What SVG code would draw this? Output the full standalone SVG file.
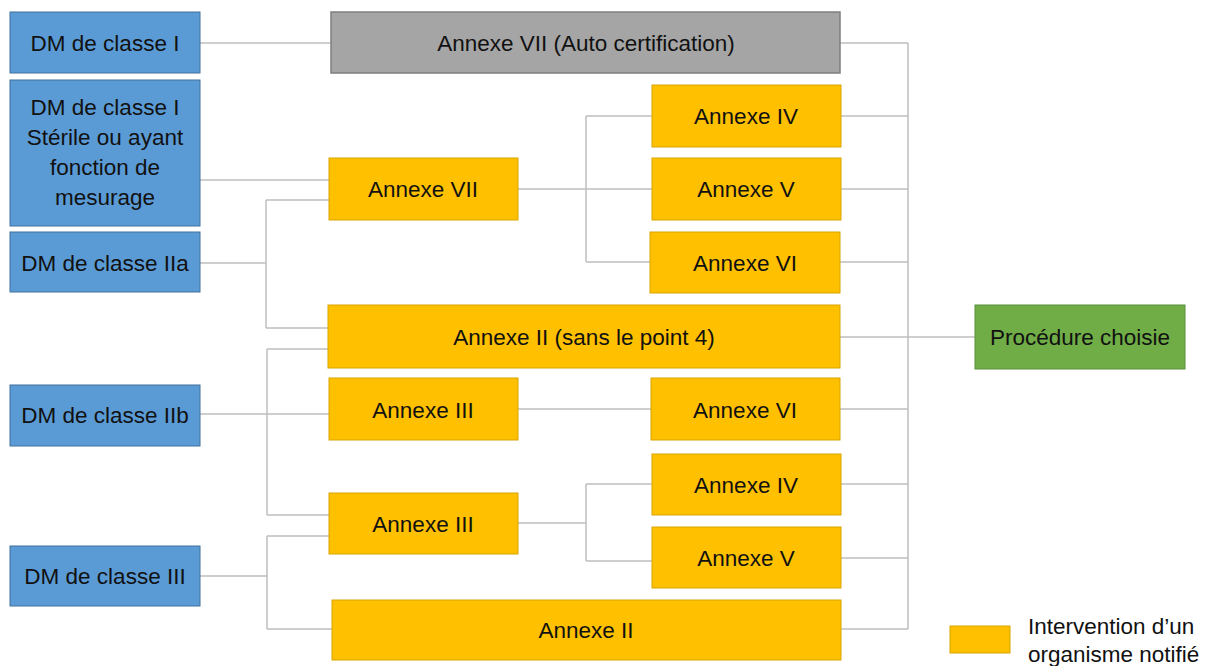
<svg xmlns="http://www.w3.org/2000/svg" width="1213" height="666" viewBox="0 0 1213 666">
<style>
text{font-family:"Liberation Sans",Arial,sans-serif;font-size:22.5px;fill:#111111;text-anchor:middle}
.blue{fill:#5b9bd5;stroke:#41719c;stroke-width:1}
.gray{fill:#a5a5a5;stroke:#7f7f7f;stroke-width:1.5}
.yel{fill:#ffc000;stroke:#d9a400;stroke-width:1}
.green{fill:#70ad47;stroke:#5a8f38;stroke-width:1}
.conn{fill:none;stroke:#bfbfbf;stroke-width:1.5}
</style>
<rect width="1213" height="666" fill="#ffffff"/>
<g id="connectors" class="conn">
<path d="M200,43H331"/>
<path d="M200,180H329"/>
<path d="M200,263H266M266,200V328M266,200H329M266,328H328"/>
<path d="M518,189H652M586,116V262M586,116H652M586,262H650"/>
<path d="M200,414H329M267,349V515M267,349H328M267,515H329"/>
<path d="M200,576H267M267,536V629M267,536H329M267,629H332"/>
<path d="M518,409H651"/>
<path d="M518,523H586M586,484V561M586,484H652M586,561H652"/>
<path d="M908,43V629M840,43H908M841,116H908M841,189H908M840,262H908M840,337H975M840,409H908M841,484H908M841,558H908M841,629H908"/>
</g>
<g id="n-dm1"><rect class="blue" x="10" y="12" width="190" height="61"/><text x="105" y="51">DM de classe I</text></g>
<g id="n-dm1s"><rect class="blue" x="10" y="80" width="190" height="146"/><text x="105" y="115">DM de classe I</text><text x="105" y="145">Stérile ou ayant</text><text x="105" y="175">fonction de</text><text x="105" y="205">mesurage</text></g>
<g id="n-dm2a"><rect class="blue" x="10" y="232" width="190" height="60"/><text x="105" y="271">DM de classe IIa</text></g>
<g id="n-dm2b"><rect class="blue" x="10" y="385" width="190" height="61"/><text x="105" y="423">DM de classe IIb</text></g>
<g id="n-dm3"><rect class="blue" x="10" y="546" width="190" height="60"/><text x="105" y="584">DM de classe III</text></g>
<g id="n-a7auto"><rect class="gray" x="331" y="12" width="509" height="61"/><text x="586" y="51">Annexe VII (Auto certification)</text></g>
<g id="n-a7"><rect class="yel" x="329" y="158" width="189" height="62"/><text x="423" y="197">Annexe VII</text></g>
<g id="n-a4a"><rect class="yel" x="652" y="85" width="189" height="62"/><text x="746" y="124">Annexe IV</text></g>
<g id="n-a5a"><rect class="yel" x="652" y="158" width="189" height="62"/><text x="746" y="197">Annexe V</text></g>
<g id="n-a6a"><rect class="yel" x="650" y="232" width="190" height="61"/><text x="745" y="271">Annexe VI</text></g>
<g id="n-a2s"><rect class="yel" x="328" y="305" width="512" height="63"/><text x="584" y="345">Annexe II (sans le point 4)</text></g>
<g id="n-a3a"><rect class="yel" x="329" y="378" width="189" height="62"/><text x="423" y="418">Annexe III</text></g>
<g id="n-a6b"><rect class="yel" x="651" y="378" width="189" height="62"/><text x="745" y="418">Annexe VI</text></g>
<g id="n-a4b"><rect class="yel" x="652" y="454" width="189" height="61"/><text x="746" y="493">Annexe IV</text></g>
<g id="n-a3b"><rect class="yel" x="329" y="493" width="189" height="61"/><text x="423" y="532">Annexe III</text></g>
<g id="n-a5b"><rect class="yel" x="652" y="527" width="189" height="61"/><text x="746" y="566">Annexe V</text></g>
<g id="n-a2"><rect class="yel" x="332" y="600" width="509" height="60"/><text x="586" y="638">Annexe II</text></g>
<g id="n-proc"><rect class="green" x="975" y="305" width="210" height="64"/><text x="1080" y="345">Procédure choisie</text></g>
<g id="legend"><rect class="yel" x="950" y="626" width="60" height="27"/><text x="1028" y="634" style="text-anchor:start">Intervention d’un</text><text x="1028" y="662" style="text-anchor:start">organisme notifié</text></g>
</svg>
